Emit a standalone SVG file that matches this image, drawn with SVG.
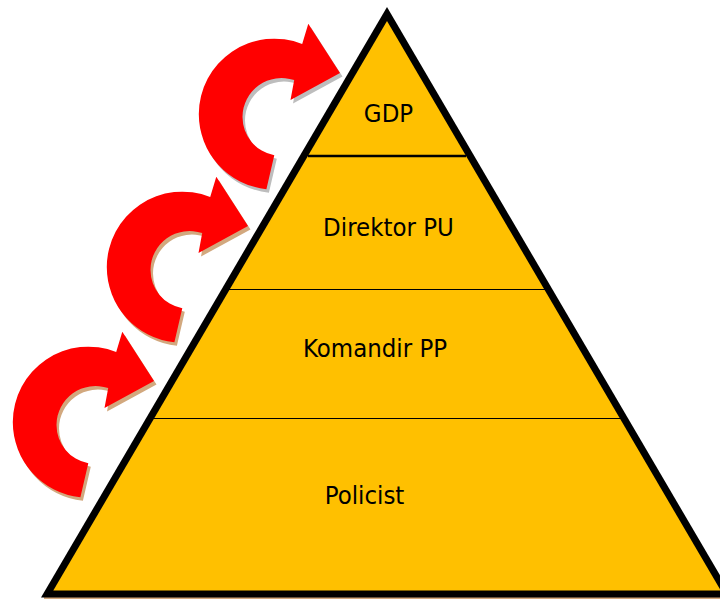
<svg xmlns="http://www.w3.org/2000/svg" width="720" height="599" viewBox="0 0 720 599">
  <style>
    .lbl { font-family: "DejaVu Sans", "Liberation Sans", sans-serif; font-size: 25.5px; fill: #000; text-anchor: middle; }
    .arrow { fill: #FF0000; }
    .shadow-brown { fill: #D2A87E; }
    .shadow-gray { fill: #BDBDBD; }
  </style>
  <defs>
    <path id="curl" d="M 80.4,497.2 A 75.5 75.5 0 0 1 12.8,422.1 A 75.5 75.5 0 0 1 116.2,352 L 122.3,331.7 L 154,381 L 104.5,408 L 108.2,388.1 A 39 39 0 0 0 56.5,425 A 39 39 0 0 0 88.3,463.3 Z"/>
  </defs>
  <rect x="0" y="0" width="720" height="599" fill="#FFFFFF"/>

  <g id="pyramid">
    <rect x="44" y="597" width="690" height="2" fill="#D2A87E"/>
    <polygon points="387,7 41,597.5 733,597.5" fill="#000000"/>
    <polygon points="387,21 53.3,590.5 720.7,590.5" fill="#FFC000"/>
    <line x1="308" y1="156" x2="466" y2="156" stroke="#000" stroke-width="2.5"/>
    <line x1="228" y1="289.5" x2="546" y2="289.5" stroke="#000" stroke-width="1.2"/>
    <line x1="153" y1="418.5" x2="621" y2="418.5" stroke="#000" stroke-width="1.2"/>
  </g>

  <g id="level-gdp"><text class="lbl" transform="translate(388.5,122) scale(0.9,1)">GDP</text></g>
  <g id="level-direktor"><text class="lbl" transform="translate(388.5,236) scale(0.9,1)">Direktor PU</text></g>
  <g id="level-komandir"><text class="lbl" transform="translate(375,357) scale(0.9,1)">Komandir PP</text></g>
  <g id="level-policist"><text class="lbl" transform="translate(364.5,504) scale(0.9,1)">Policist</text></g>

  <g id="connectors">
    <g id="arrow-1">
      <use href="#curl" class="shadow-brown" transform="translate(2.5,3.5)"/>
      <use href="#curl" class="arrow"/>
    </g>
    <g id="arrow-2" transform="translate(94,-155)">
      <use href="#curl" class="shadow-brown" transform="translate(2.5,3.5)"/>
      <use href="#curl" class="arrow"/>
    </g>
    <g id="arrow-3" transform="translate(186,-308)">
      <use href="#curl" class="shadow-gray" transform="translate(2.5,3.5)"/>
      <use href="#curl" class="arrow"/>
    </g>
  </g>
</svg>
